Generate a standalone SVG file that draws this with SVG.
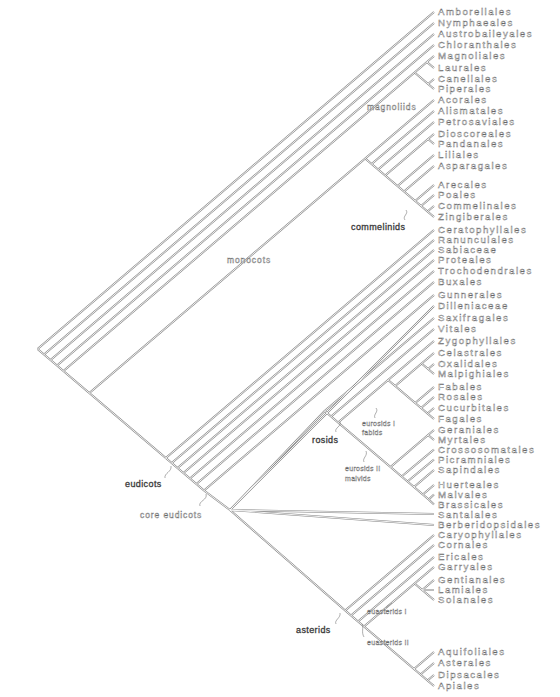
<svg xmlns="http://www.w3.org/2000/svg" xmlns:xlink="http://www.w3.org/1999/xlink" width="560" height="697" viewBox="0 0 560 697">
<style>
.leaf{font-family:"Liberation Sans",Arial,sans-serif;font-size:9.7px;letter-spacing:1.5px;fill:#fff;stroke:#666;stroke-width:0.4px}
.cl{font-family:"Liberation Sans",Arial,sans-serif;font-size:8.5px;letter-spacing:0.9px;fill:#fff;stroke:#666;stroke-width:0.4px}
.cd{font-family:"Liberation Sans",Arial,sans-serif;font-size:9px;letter-spacing:0.4px;fill:#444;stroke:#333;stroke-width:0.3px}
.cs{font-family:"Liberation Sans",Arial,sans-serif;font-size:7px;letter-spacing:0.3px;fill:#fff;stroke:#666;stroke-width:0.35px}
.ol{fill:none;stroke:#888;stroke-width:1.9}
.il{fill:none;stroke:#fff;stroke-width:0.9}
.ptr{fill:none;stroke:#777;stroke-width:0.6}
</style>
<defs>
<g id="edges">
<path d="M37.5,349L434,12M37.5,349L44,354.5M44,354.5L434,23M44,354.5L50.5,360M50.5,360L434,34M50.5,360L57,365.5M57,365.5L434,45M57,365.5L63.4,371"/>
<path d="M63.4,371L414.6,72.5M63.4,371L89.3,393M414.6,72.5L426.9,62M414.6,72.5L428.1,84M426.9,62L434,56M426.9,62L434,68M428.1,84L434,79M428.1,84L434,89"/>
<path d="M89.3,393L365.2,158.5M89.3,393L165.8,458M365.2,158.5L434,100M365.2,158.5L371.6,164M371.6,164L434,111M371.6,164L378.1,169.5M378.1,169.5L434,122M378.1,169.5L385.2,175.5M385.2,175.5L428.1,139M385.2,175.5L397.5,186M428.1,139L434,134M428.1,139L434,144M397.5,186L434,155M397.5,186L404,191.5M404,191.5L434,166M404,191.5L415.2,201M415.2,201L434,185M415.2,201L421.1,206M421.1,206L434,195M421.1,206L427.5,211.5M427.5,211.5L434,206M427.5,211.5L434,217"/>
<path d="M165.8,458L434,230M165.8,458L171.7,463M171.7,463L434,240M171.7,463L177.5,468M177.5,468L434,250M177.5,468L183.4,473M183.4,473L434,260M183.4,473L189.9,478.5M189.9,478.5L434,271M189.9,478.5L196.4,484M196.4,484L434,282M196.4,484L204,490.5M204,490.5L434,295M204,490.5L230,510"/>
<path d="M230,510L434,306M230,510L324.6,411M230,510L434,514M230,510L434,525M230,510L345.2,610.5"/>
<path d="M324.6,411L434,318M324.6,411L331.1,416.5M331.1,416.5L434,329M331.1,416.5L338.1,422.5M338.1,422.5L388.1,380M338.1,422.5L390.5,467M388.1,380L434,341M388.1,380L395.2,386M395.2,386L421.6,363.5M395.2,386L415.2,403M421.6,363.5L434,353M421.6,363.5L428.1,369M428.1,369L434,364M428.1,369L434,374M415.2,403L434,387M415.2,403L421.1,408M421.1,408L434,397M421.1,408L427.5,413.5M427.5,413.5L434,408M427.5,413.5L434,419"/>
<path d="M390.5,467L428.1,435M390.5,467L401.6,476.5M428.1,435L434,430M428.1,435L434,440M401.6,476.5L434,449.5M401.6,476.5L407.5,481.5M407.5,481.5L434,459.5M407.5,481.5L414,487M414,487L434,470M414,487L422.8,494.5M422.8,494.5L434,485M422.8,494.5L428.7,499.5M428.7,499.5L434,494.5M428.7,499.5L434,504.5"/>
<path d="M345.2,610.5L434,535M345.2,610.5L351,615.5M351,615.5L434,545M351,615.5L358,621.5M358,621.5L434,557M358,621.5L364,626.5M364,626.5L414.6,583.5M364,626.5L414,669M414.6,583.5L434,567M414.6,583.5L422.2,590M422.2,590L434,580M422.2,590L434,590M422.2,590L434,600M414,669L434,652M414,669L420.5,674.5M420.5,674.5L434,663M420.5,674.5L427.5,680.5M427.5,680.5L434,675M427.5,680.5L434,686"/>
</g>
</defs>
<rect width="560" height="697" fill="#fff"/>
<g id="connectors">
<use xlink:href="#edges" class="ol"/>
<use xlink:href="#edges" class="il"/>
</g>
<g id="leaves">
<g id="n-amborellales"><text class="leaf" x="438" y="15.3">Amborellales</text></g>
<g id="n-nymphaeales"><text class="leaf" x="438" y="26.3">Nymphaeales</text></g>
<g id="n-austrobaileyales"><text class="leaf" x="438" y="37.3">Austrobaileyales</text></g>
<g id="n-chloranthales"><text class="leaf" x="438" y="48.3">Chloranthales</text></g>
<g id="n-magnoliales"><text class="leaf" x="438" y="59.3">Magnoliales</text></g>
<g id="n-laurales"><text class="leaf" x="438" y="71.3">Laurales</text></g>
<g id="n-canellales"><text class="leaf" x="438" y="82.3">Canellales</text></g>
<g id="n-piperales"><text class="leaf" x="438" y="92.3">Piperales</text></g>
<g id="n-acorales"><text class="leaf" x="438" y="103.3">Acorales</text></g>
<g id="n-alismatales"><text class="leaf" x="438" y="114.3">Alismatales</text></g>
<g id="n-petrosaviales"><text class="leaf" x="438" y="125.3">Petrosaviales</text></g>
<g id="n-dioscoreales"><text class="leaf" x="438" y="137.3">Dioscoreales</text></g>
<g id="n-pandanales"><text class="leaf" x="438" y="147.3">Pandanales</text></g>
<g id="n-liliales"><text class="leaf" x="438" y="158.3">Liliales</text></g>
<g id="n-asparagales"><text class="leaf" x="438" y="169.3">Asparagales</text></g>
<g id="n-arecales"><text class="leaf" x="438" y="188.3">Arecales</text></g>
<g id="n-poales"><text class="leaf" x="438" y="198.3">Poales</text></g>
<g id="n-commelinales"><text class="leaf" x="438" y="209.3">Commelinales</text></g>
<g id="n-zingiberales"><text class="leaf" x="438" y="220.3">Zingiberales</text></g>
<g id="n-ceratophyllales"><text class="leaf" x="438" y="233.3">Ceratophyllales</text></g>
<g id="n-ranunculales"><text class="leaf" x="438" y="243.3">Ranunculales</text></g>
<g id="n-sabiaceae"><text class="leaf" x="438" y="253.3">Sabiaceae</text></g>
<g id="n-proteales"><text class="leaf" x="438" y="263.3">Proteales</text></g>
<g id="n-trochodendrales"><text class="leaf" x="438" y="274.3">Trochodendrales</text></g>
<g id="n-buxales"><text class="leaf" x="438" y="285.3">Buxales</text></g>
<g id="n-gunnerales"><text class="leaf" x="438" y="298.3">Gunnerales</text></g>
<g id="n-dilleniaceae"><text class="leaf" x="438" y="309.3">Dilleniaceae</text></g>
<g id="n-saxifragales"><text class="leaf" x="438" y="321.3">Saxifragales</text></g>
<g id="n-vitales"><text class="leaf" x="438" y="332.3">Vitales</text></g>
<g id="n-zygophyllales"><text class="leaf" x="438" y="344.3">Zygophyllales</text></g>
<g id="n-celastrales"><text class="leaf" x="438" y="356.3">Celastrales</text></g>
<g id="n-oxalidales"><text class="leaf" x="438" y="367.3">Oxalidales</text></g>
<g id="n-malpighiales"><text class="leaf" x="438" y="377.3">Malpighiales</text></g>
<g id="n-fabales"><text class="leaf" x="438" y="390.3">Fabales</text></g>
<g id="n-rosales"><text class="leaf" x="438" y="400.3">Rosales</text></g>
<g id="n-cucurbitales"><text class="leaf" x="438" y="411.3">Cucurbitales</text></g>
<g id="n-fagales"><text class="leaf" x="438" y="422.3">Fagales</text></g>
<g id="n-geraniales"><text class="leaf" x="438" y="433.3">Geraniales</text></g>
<g id="n-myrtales"><text class="leaf" x="438" y="443">Myrtales</text></g>
<g id="n-crossosomatales"><text class="leaf" x="438" y="452.8">Crossosomatales</text></g>
<g id="n-picramniales"><text class="leaf" x="438" y="462.8">Picramniales</text></g>
<g id="n-sapindales"><text class="leaf" x="438" y="473.3">Sapindales</text></g>
<g id="n-huerteales"><text class="leaf" x="438" y="488.3">Huerteales</text></g>
<g id="n-malvales"><text class="leaf" x="438" y="497.8">Malvales</text></g>
<g id="n-brassicales"><text class="leaf" x="438" y="507.8">Brassicales</text></g>
<g id="n-santalales"><text class="leaf" x="438" y="517.5">Santalales</text></g>
<g id="n-berberidopsidales"><text class="leaf" x="438" y="528.3">Berberidopsidales</text></g>
<g id="n-caryophyllales"><text class="leaf" x="438" y="538.3">Caryophyllales</text></g>
<g id="n-cornales"><text class="leaf" x="438" y="548.3">Cornales</text></g>
<g id="n-ericales"><text class="leaf" x="438" y="560.3">Ericales</text></g>
<g id="n-garryales"><text class="leaf" x="438" y="570.3">Garryales</text></g>
<g id="n-gentianales"><text class="leaf" x="438" y="583.3">Gentianales</text></g>
<g id="n-lamiales"><text class="leaf" x="438" y="593.3">Lamiales</text></g>
<g id="n-solanales"><text class="leaf" x="438" y="603.3">Solanales</text></g>
<g id="n-aquifoliales"><text class="leaf" x="438" y="655.3">Aquifoliales</text></g>
<g id="n-asterales"><text class="leaf" x="438" y="666.3">Asterales</text></g>
<g id="n-dipsacales"><text class="leaf" x="438" y="678.3">Dipsacales</text></g>
<g id="n-apiales"><text class="leaf" x="438" y="689.3">Apiales</text></g>
</g>
<g id="clades">
<g id="c-magnoliids"><text class="cl" x="367" y="110">magnoliids</text></g>
<g id="c-monocots"><text class="cl" x="227" y="263">monocots</text></g>
<g id="c-commelinids"><path class="ptr" d="M405,220c-3,-4 4,-6 1,-10"/><text class="cd" x="351" y="230">commelinids</text></g>
<g id="c-eudicots"><path class="ptr" d="M165,478c-1,-5 7,-6 6,-12"/><text class="cd" x="125" y="487">eudicots</text></g>
<g id="c-core"><path class="ptr" d="M200,506c-2,-5 8,-6 6,-12"/><text class="cl" x="140" y="518">core eudicots</text></g>
<g id="c-rosids"><path class="ptr" d="M336,432c-2,-4 6,-6 4,-10"/><text class="cd" x="312" y="443">rosids</text></g>
<g id="c-fabids"><path class="ptr" d="M375,418c-2,-4 4,-6 1,-10"/><text class="cs" x="362" y="426">eurosids I</text><text class="cs" x="362" y="435">fabids</text></g>
<g id="c-malvids"><path class="ptr" d="M364,462c-2,-4 4,-6 2,-11"/><text class="cs" x="345" y="471">eurosids II</text><text class="cs" x="345" y="481">malvids</text></g>
<g id="c-asterids"><path class="ptr" d="M336,624c-2,-4 5,-6 4,-11"/><text class="cd" x="296" y="633">asterids</text></g>
<g id="c-lamiids"><path class="ptr" d="M386,608c1,-2 4,-3 6,-5"/><text class="cs" x="367" y="614">euasterids I</text></g>
<g id="c-campanulids"><path class="ptr" d="M364,637c-3,-5 0,-9 -2,-13"/><text class="cs" x="367" y="645">euasterids II</text></g>
</g>
</svg>
